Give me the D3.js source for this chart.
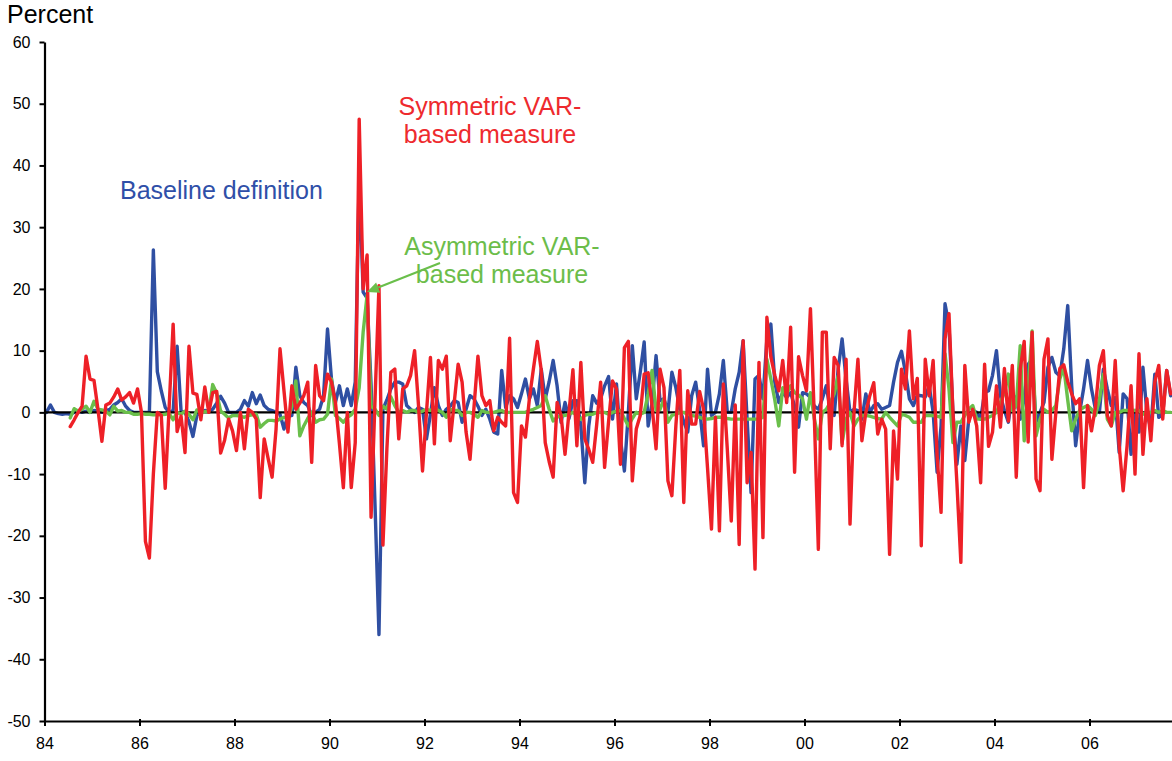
<!DOCTYPE html>
<html><head><meta charset="utf-8">
<script src="https://cdn.jsdelivr.net/npm/d3@7"></script>
<style>
html,body{margin:0;padding:0;background:#fff;}
svg{display:block;}
text{font-family:"Liberation Sans",Arial,Helvetica,sans-serif;}
</style></head><body>
<svg id="chart" width="1172" height="761"></svg>
<script>
// ---- data (monthly, % ) ----
const startYear = 1984;            // first month = Jan 1984
const yTicks = [60, 50, 40, 30, 20, 10, 0, -10, -20, -30, -40, -50];
const xTickYears = [1984, 1986, 1988, 1990, 1992, 1994, 1996, 1998, 2000, 2002, 2004, 2006];
const xTickLabels = ["84", "86", "88", "90", "92", "94", "96", "98", "00", "02", "04", "06"];

// Baseline definition (starts Jan 1984)
const baselineStart = 0;
const baseline = [
  0, 1.2, 0, -0.2, -0.3, -0.2, -0.3, 0, 0.3, 0, 0.2, 0,
  0.3, 0.2, 0, 0.3, 0.5, 1.2, 1.6, 2.2, 1.0, 0.3, 0, 0,
  0, 0, 0, 26.3, 6.6, 3.5, 0.8, 0, 0.3, 10.7, 0.2, 0,
  -1.5, -3.9, -0.5, 0, 0.3, 0.2, 0.5, 1.5, 2.6, 1.5, 0, 0,
  0, 0.5, 1.9, 1.0, 3.2, 1.4, 2.8, 1.1, 0.5, 0.3, 0, -0.3,
  -2.7, -0.5, -0.5, 7.3, 2.7, 1.6, 1.1, -0.5, 0, 0.5, 2.7, 13.5,
  5.4, 1.6, 4.3, 1.1, 3.8, 1.1, 4.9, 38.2, 19.5, 18.5, 4.5, -15,
  -36, 0.5, 2, 3.8, 4.9, 4.9, 4.6, 1.1, 0.5, 0, 0.8, 0.5,
  -4.3, -0.3, 4, 1.1, -0.5, 0.5, 1.0, 1.9, 1.6, -1.6, 0.5, 2.7,
  2.2, 1.0, -0.5, 0.5, -1.1, -3.2, -3.5, 6.8, 0.8, 2.7, 2.2, 0.8,
  3, 5.4, 2.2, 3.8, 1.1, 7.0, 2.2, 5, 8.4, 4.3, -1.6, 1.6,
  -1, 1.9, 1.9, -2.2, -11.4, -2.2, 2.7, 1.5, 2.2, 4.3, 5.8, -1.1,
  4.6, -4.3, -9.5, 0, 10.8, 2.2, 6.5, 11.4, -2.2, 1.6, 9.2, 1.9,
  2.2, 0, 6.5, 4, 0.5, -1.5, -3.2, 2.7, 4.9, 0.5, -5.4, 7,
  -0.5, 0, 3, 8.4, 0, 0, 3.8, 6.5, 11.6, -1.1, -13, 5.4,
  6, 2.2, 11.9, 14.3, 4.9, 1.6, 3.2, 2.4, 3.2, 1, -2.4, 3.2,
  3.0, 2.4, 1, 0.5, 2.2, 4.3, 0.3, -0.5, 7, 11.9, 5.4, 0,
  0.5, 0.3, -1.1, 3, 0, 1.1, 1.4, 0.5, 0.8, 1.1, 4.9, 8.1,
  9.9, 6.5, 2.2, 1.1, 2.8, 2.7, 2.5, 4.3, 0, -9.7, -2.2, 17.6,
  14.1, 0, -8.4, -2.2, -7.8, -1.1, 0.3, 0, -1.1, 3.2, 3.5, 6,
  10, 2.7, 0.3, -1.6, 3, 2.2, -1.1, 2.2, 7.8, 8.6, -1.6, 0,
  1.6, 7.3, 8.9, 6.5, 5.9, 10.3, 17.3, 4.3, -5.4, 0, 3.8, 8.4,
  3.8, 0.5, 0, 7, 3.8, 1.1, 2.4, -6.5, 3, 2.2, -6.8, 0.3,
  -3.2, 7.3, 0, -2.7, 6.2, -0.8, -0.3, 6.8, 2.7
];

// Symmetric VAR-based measure (starts Jul 1984)
const symmetricStart = 6;
const symmetric = [
  -2.3, -1.2, 0, 1, 9.1, 5.4,
  5.2, 0.5, -4.7, 1.2, 1.5, 2.5, 3.8, 2, 2.5, 3.2, 1.5, 3.8,
  0, -20.9, -23.6, -10, 0, -0.5, -12.3, 1, 14.3, -3.1, -0.6, -6.5,
  10.7, 3.1, 2.9, -1.2, 4.1, 0, 3.2, 3.4, -6.6, -4.5, -1.1, -3,
  -6.2, 0, -5.9, 0.5, 0, -1.1, -13.8, -4.3, -7.5, -10.5, -2.7, 10.3,
  3.5, -3.2, 4.3, 0.5, 1.5, 2.7, 4.9, -8.1, 7.6, 2.7, 1.9, 6.2,
  4.9, 1.6, -5, -12.2, 0, -12.2, -4.9, 47.5, 20, 25.5, -17, 2,
  20.5, -21.5, -5.9, 6.5, 7, -4.3, 3.8, 4.3, 6, 10, 1, -9.5,
  0, 8.9, -5.1, 8.4, 7, 9.1, -4.6, 1.5, 7.8, 4.9, -3.2, -7.6,
  0.8, 9.1, 2.7, 1.1, 1.9, -3, -0.8, -1.6, -2.2, 12, -13, -14.6,
  -2.2, -4, 2.2, 7, 11.5, 6.8, -4.9, -8, -10.5, 1.6, -0.5, -6.8,
  0, 6.9, -5.4, 8.1, -4.3, -6, -8.1, -2, 4.9, -8.9, -1.5, 5.1,
  3.8, -8.4, 10.5, 11.5, -11.1, -2.7, -0.5, 6.2, 6.4, 1, -5.9, 7,
  4, -11.1, -13.5, -2.2, 6.8, -14.6, 3.5, -1.9, -1.9, 3.4, 0.5, -9,
  -18.9, -0.8, -19.2, 4.6, -6, -17.6, 1.2, -21.4, 11.6, -11.4, -6.5, -25.4,
  8.1, -20.3, 15.4, 9, 6, 3.5, 8.4, 1.6, 13.8, -9.7, 9, 6,
  3.5, 16.8, -1.1, -22.2, 13, 13, -5.9, 8.9, 7.6, -5.4, 8.6, -18.1,
  0, 8.6, -4.6, 0, 2.7, 4.8, -3.5, -1.1, -2.7, -23, -3, -10.8,
  7, 3.8, 13.2, 2.2, 5.5, -21.6, 8.6, 2.7, 8.4, -7, -16.2, 11.9,
  16, 0, -11.4, -24.3, 7.6, -1.6, 0.5, -2.2, -11.4, 7.8, -5.5, -3.2,
  4.3, -2.4, 7.1, -1.4, 7.6, -10.5, 7, 11.5, -4.8, 13, -10.8, -12.7,
  8.6, 11.9, -7.6, 0, 7.1, 7.7, 5, 3, 1.4, 2.2, -12.2, 1.1,
  -3, 0.8, 7.6, 10, -0.5, -2.2, 8.4, -5.4, -12.7, -5.4, 4.3, -10,
  9.5, -6.8, 2.2, -4.6, 4.9, 7.6, -1.1, 6.8, 3
];

// Asymmetric VAR-based measure (starts Jul 1984)
const asymmetricStart = 6;
const asymmetric = [
  -0.9, 0.6, 0.2, 0.5, 1.0, 0,
  1.8, 0.5, 0.4, 0.2, -0.4, 1.0, 0.2, 0.3, 0, 0, -0.3, -0.3,
  -0.2, -0.3, -0.3, -0.4, -0.4, -0.4, -0.3, -0.2, -1.2, 0, -0.3, 0.2,
  -0.3, -1.2, 0.4, 0, 0.1, 0.2, 4.5, 3.1, 0.2, -0.3, -0.9, -0.5,
  -0.5, -0.6, -0.8, -0.5, -0.4, -0.3, -2.4, -1.8, -1.3, -1.3, -1.4, -1.1,
  -0.8, -1.1, 1, 5.1, -3.8, -2.2, -1, 0, -1.6, -1.2, -1.1, -0.3,
  5.4, -0.5, -1, -1.6, -0.8, -0.4, 0.5, 4, 13, 19, 1, 0.5,
  -0.5, 1, 0.5, 2.5, 1.1, 0, 0.3, 0, 0.3, 0.3, 0, 0.2,
  0.5, 0.3, 0.8, 0.3, 0, -0.8, 0.5, 0.3, 0.3, -0.5, 0, 0,
  -0.3, -0.8, 0.3, 0, 0, 0, 0.2, 0.3, 0, 0, 0, 0,
  0, 0, 0.3, 0.5, 0.8, 1.1, 2.7, 0.5, -1.4, -0.8, -0.5, -0.5,
  -0.3, 0, -0.5, -1.1, -0.5, -0.3, -0.3, 0, 0, 0, -0.3, 0,
  0.2, 0.3, -1, -2.2, -1, 0, -0.3, 0, 3, 6.8, 0.3, 0.5,
  2.2, -1.6, -0.5, -0.3, 0, 0, -0.3, -0.5, -0.6, -0.8, -1, -1.1,
  -1, -0.8, -0.8, -0.8, -1, -1.1, -1.1, -1.1, -1.1, -1.1, -1.1, -1.1,
  -1.1, -0.8, 8.6, 5.4, 2, -2.2, 4, 3, 4.3, 3.2, 2.8, 2.2,
  -1.1, 3.2, -1.1, -4.3, 0, 0.5, 1.6, 3, 5.9, -4.9, -1.1, 0,
  -2.2, -1.1, -0.5, -0.5, -0.6, -0.8, -1, -1.1, 0, -0.8, -1.5, -2.2,
  -0.3, -0.5, -0.8, -1.6, -1.6, -1.6, -0.5, -0.5, -0.5, -0.6, -0.8, 9.5,
  3.8, -4.9, -1.6, -1.6, -0.5, 0.5, 1.1, -1.1, -1.1, -1.1, -0.8, -0.5,
  0, 1.6, 3.2, 6.2, 0.3, 1.1, 10.8, -4.6, 4, 13.2, -3.8, -1.1,
  0.5, 0, 0.3, 1.1, 5.4, 7.3, 2, -3, -1.1, 0.3, 0.8, 1.1,
  0.5, -0.5, 2, 6.2, -1.1, -2.2, 0, 0, 0.3, 0.3, 0.3, 0.3,
  0.3, -0.3, 0, 0, 0.3, 0, 0.3, 0, 0
];

// ---- drawing ----
const svg = d3.select("#chart");
const xLeft = 44.5, xRight = 1172, pxPerYear = 47.5;
const x = d3.scaleLinear()
  .domain([startYear, startYear + (xRight - xLeft) / pxPerYear])
  .range([xLeft, xRight]);
const y = d3.scaleLinear().domain([-50, 60]).range([721, 42]);

const toPoints = (vals, offset) => vals.map((v, i) => ({ t: startYear + (i + offset + 0.5) / 12, v }));
const line = d3.line().x(d => x(d.t)).y(d => y(d.v)).curve(d3.curveLinear);

svg.append("defs").append("clipPath").attr("id", "plot")
  .append("rect").attr("x", xLeft).attr("y", 0).attr("width", xRight - xLeft).attr("height", 721);

const g = svg.append("g").attr("clip-path", "url(#plot)");
const series = [
  { vals: baseline, off: baselineStart, color: "#2f4fa2" },
  { vals: asymmetric, off: asymmetricStart, color: "#6abf4b" },
  { vals: symmetric, off: symmetricStart, color: "#ee2027" }
];
const LW = 3.4;

g.append("path").datum(toPoints(series[0].vals, series[0].off))
  .attr("d", line).attr("fill", "none").attr("stroke", series[0].color)
  .attr("stroke-width", LW).attr("stroke-linejoin", "round").attr("stroke-linecap", "round");

// zero line
g.append("line").attr("x1", xLeft).attr("x2", xRight).attr("y1", y(0)).attr("y2", y(0))
  .attr("stroke", "#000").attr("stroke-width", 2.2);

for (const s of series.slice(1)) {
  g.append("path").datum(toPoints(s.vals, s.off))
    .attr("d", line).attr("fill", "none").attr("stroke", s.color)
    .attr("stroke-width", LW).attr("stroke-linejoin", "round").attr("stroke-linecap", "round");
}

// axes
const yAxis = d3.axisLeft(y).tickValues(yTicks).tickSize(5).tickSizeOuter(0).tickPadding(9)
  .tickFormat(d => String(d));
const gy = svg.append("g").attr("transform", `translate(${xLeft},0)`).call(yAxis);
gy.select(".domain").attr("stroke", "#000").attr("stroke-width", 2.2);
gy.selectAll(".tick line").attr("stroke", "#000").attr("stroke-width", 2);
gy.selectAll(".tick text").attr("font-size", 16).attr("fill", "#000")
  .attr("font-family", "'Liberation Sans', Arial, sans-serif");

const xAxis = d3.axisBottom(x).tickValues(xTickYears).tickSize(5).tickSizeOuter(0).tickPadding(12)
  .tickFormat((d, i) => xTickLabels[i]);
const gx = svg.append("g").attr("transform", `translate(0,721)`).call(xAxis);
gx.select(".domain").attr("stroke", "#000").attr("stroke-width", 2.2);
gx.selectAll(".tick line").attr("stroke", "#000").attr("stroke-width", 2).attr("y1", -2);
gx.selectAll(".tick text").attr("font-size", 16).attr("fill", "#000")
  .attr("font-family", "'Liberation Sans', Arial, sans-serif");

// titles & annotations
svg.append("text").attr("x", 7).attr("y", 23).attr("font-size", 25).attr("fill", "#000").text("Percent");

svg.append("text").attr("x", 120).attr("y", 199).attr("font-size", 25).attr("fill", "#2f4fa8")
  .text("Baseline definition");

const sym = svg.append("text").attr("font-size", 25).attr("fill", "#ee2a2e").attr("text-anchor", "middle");
sym.append("tspan").attr("x", 490).attr("y", 115).text("Symmetric VAR-");
sym.append("tspan").attr("x", 490).attr("y", 143).text("based measure");

// green arrow
const tip = [367, 292], tail = [440, 263];
const ang = Math.atan2(tail[1] - tip[1], tail[0] - tip[0]);
const L = 12, Wd = 5.5;
const bx = tip[0] + L * Math.cos(ang), by = tip[1] + L * Math.sin(ang);
svg.append("line").attr("x1", tail[0]).attr("y1", tail[1]).attr("x2", bx).attr("y2", by)
  .attr("stroke", "#6abf4b").attr("stroke-width", 2.2);
svg.append("path").attr("fill", "#6abf4b").attr("d",
  `M${tip[0]},${tip[1]} L${bx + Wd * Math.sin(ang)},${by - Wd * Math.cos(ang)} L${bx - Wd * Math.sin(ang)},${by + Wd * Math.cos(ang)} Z`);

const asym = svg.append("text").attr("font-size", 25).attr("fill", "#6cbd4a").attr("text-anchor", "middle");
asym.append("tspan").attr("x", 502).attr("y", 255).text("Asymmetric VAR-");
asym.append("tspan").attr("x", 502).attr("y", 283).text("based measure");
</script>
</body></html>
